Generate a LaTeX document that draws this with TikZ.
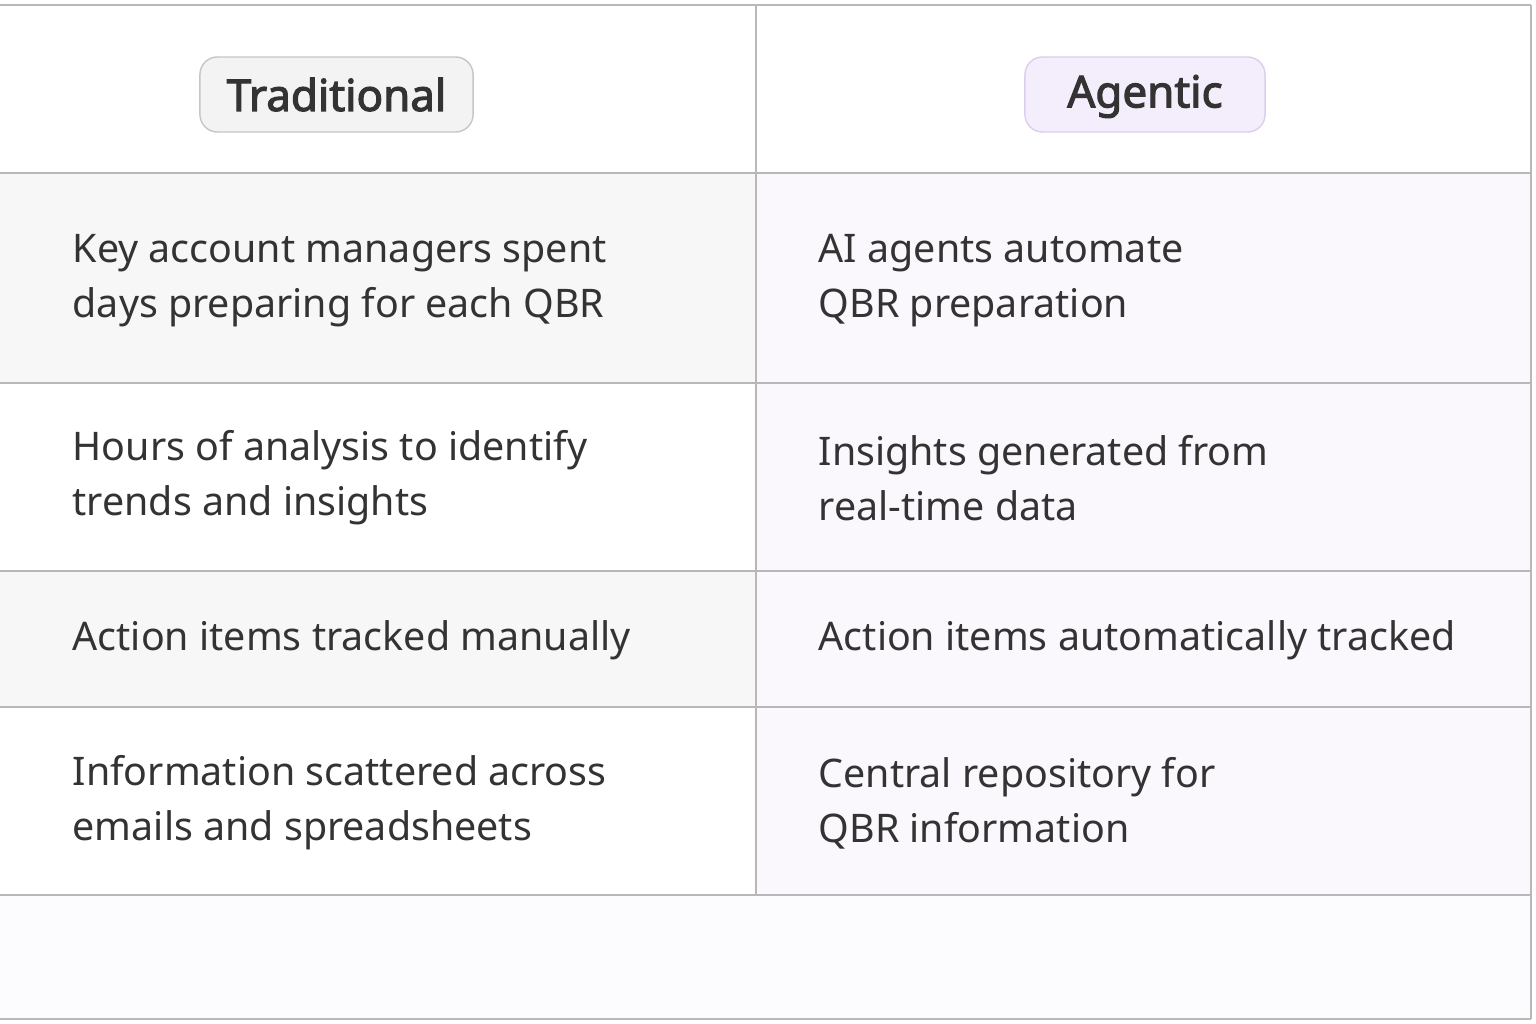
\documentclass[tikz,border=0pt]{standalone}
\usepackage{fontspec}
\setmainfont{Noto Sans}
\newfontfamily\headfont{Noto Sans}[AutoFakeBold=2.5]
\definecolor{ink}{HTML}{333333}
\definecolor{rule}{HTML}{B8B8B8}
\definecolor{graycell}{HTML}{F7F7F7}
\definecolor{lavcell}{HTML}{FAF8FD}
\definecolor{tradfill}{HTML}{F3F3F3}
\definecolor{agfill}{HTML}{F4EDFC}
\definecolor{agline}{HTML}{DDCDEF}
\begin{document}
\begin{tikzpicture}
[x=0.01cm,y=-0.01cm,
 cell/.style={anchor=west,align=left,text=ink,inner sep=0pt,
   font=\fontsize{11.2}{15.6}\selectfont},
 head/.style={draw,rounded corners=5pt,text=ink,minimum height=0.75cm,
   font=\headfont\fontsize{12.5}{15}\selectfont\bfseries},
 grid/.style={rule,line width=0.5pt}]

\useasboundingbox (0,0) rectangle (1536,1024);
\fill[white] (0,0) rectangle (1536,1024);

% cell backgrounds
\fill[graycell] (0,173) rectangle (756,383);
\fill[graycell] (0,571) rectangle (756,707);
\fill[lavcell] (756,173) rectangle (1531,895);
\fill[lavcell!60!white] (0,895) rectangle (1531,1019);

% grid lines
\foreach \y in {5,173,383,571,707,895,1019}
  \draw[grid] (0,\y) -- (1531,\y);
\draw[grid] (756,5) -- (756,895);
\draw[grid] (1531,5) -- (1531,1019);

% headers
\node (trad) [head,fill=tradfill,draw=rule!80,minimum width=2.73cm] at (336.5,94.5) {Traditional};
\node (agen) [head,fill=agfill,draw=agline,minimum width=2.40cm,text depth=0.35ex] at (1145,94.5) {Agentic};

% left column
\node (t1) [cell] at (72,281) {Key account managers spent\\days preparing for each QBR};
\node (t2) [cell] at (72,478) {Hours of analysis to identify\\trends and insights};
\node (t3) [cell] at (72,640) {Action items tracked manually};
\node (t4) [cell] at (72,803) {Information scattered across\\emails and spreadsheets};

% right column
\node (a1) [cell] at (818,281) {AI agents automate\\QBR preparation};
\node (a2) [cell] at (818,478) {Insights generated from\\real-time data};
\node (a3) [cell] at (818,640) {Action items automatically tracked};
\node (a4) [cell] at (818,803) {Central repository for\\QBR information};
\end{tikzpicture}
\end{document}
